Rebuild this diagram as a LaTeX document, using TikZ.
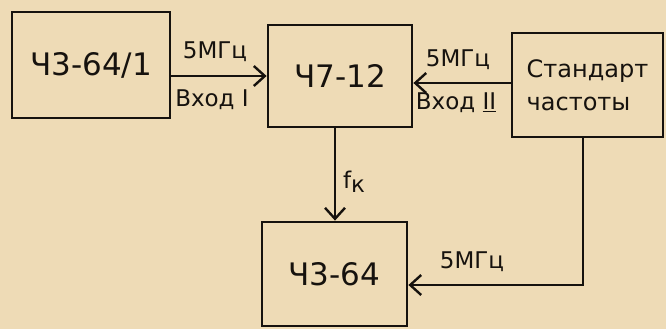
\documentclass[tikz,border=0pt]{standalone}
\usepackage{fontspec}
\setmainfont{DejaVu Sans}
\usetikzlibrary{arrows.meta}
\definecolor{paper}{RGB}{238,219,182}
\definecolor{ink}{RGB}{22,18,14}
\begin{document}
\begin{tikzpicture}[x=1pt,y=-1pt,
  blk/.style={draw=ink, line width=2.8pt, inner sep=0pt, text=ink, font=\fontsize{31}{34}\selectfont},
  arr/.style={draw=ink, line width=2.8pt, -{Straight Barb[length=11pt,width=20pt,line width=2.4pt]}},
  lbl/.style={text=ink, font=\fontsize{23}{26}\selectfont, inner sep=0pt}]
\fill[paper] (0,0) rectangle (666,329);
\useasboundingbox (0,0) rectangle (666,329);
\node[blk, minimum width=158pt, minimum height=106pt] (b1) at (91,65) {Ч3-64/1};
\node[blk, minimum width=144pt, minimum height=102pt] (b2) at (340,76) {Ч7-12};
\node[blk, minimum width=151pt, minimum height=104pt, align=left, font=\fontsize{24}{33}\selectfont] (b3) at (587.5,85) {Стандарт\\частоты};
\node[blk, minimum width=145pt, minimum height=104pt] (b4) at (334.5,274) {Ч3-64};
\coordinate (a1) at (0,76);
\coordinate (a2) at (0,83);
\coordinate (a3) at (335,0);
\coordinate (a4) at (583,285);
\draw[arr] (b1.east |- a1) -- (b2.west |- a1);
\draw[arr] (b3.west |- a2) -- (b2.east |- a2);
\draw[arr] (b2.south -| a3) -- (b4.north -| a3);
\draw[arr] (b3.south -| a4) |- (b4.east |- a4);
\node[lbl] (l1) at (215,52) {5МГц};
\node[lbl] (l2) at (212,100) {Вход I};
\node[lbl] (l3) at (458,60) {5МГц};
\node[lbl] (l4) at (456,103) {Вход \underline{II}};
\node[lbl] (l5) at (354,182) {f\raisebox{-0.35ex}{к}};
\node[lbl] (l6) at (472,262) {5МГц};
\end{tikzpicture}
\end{document}
